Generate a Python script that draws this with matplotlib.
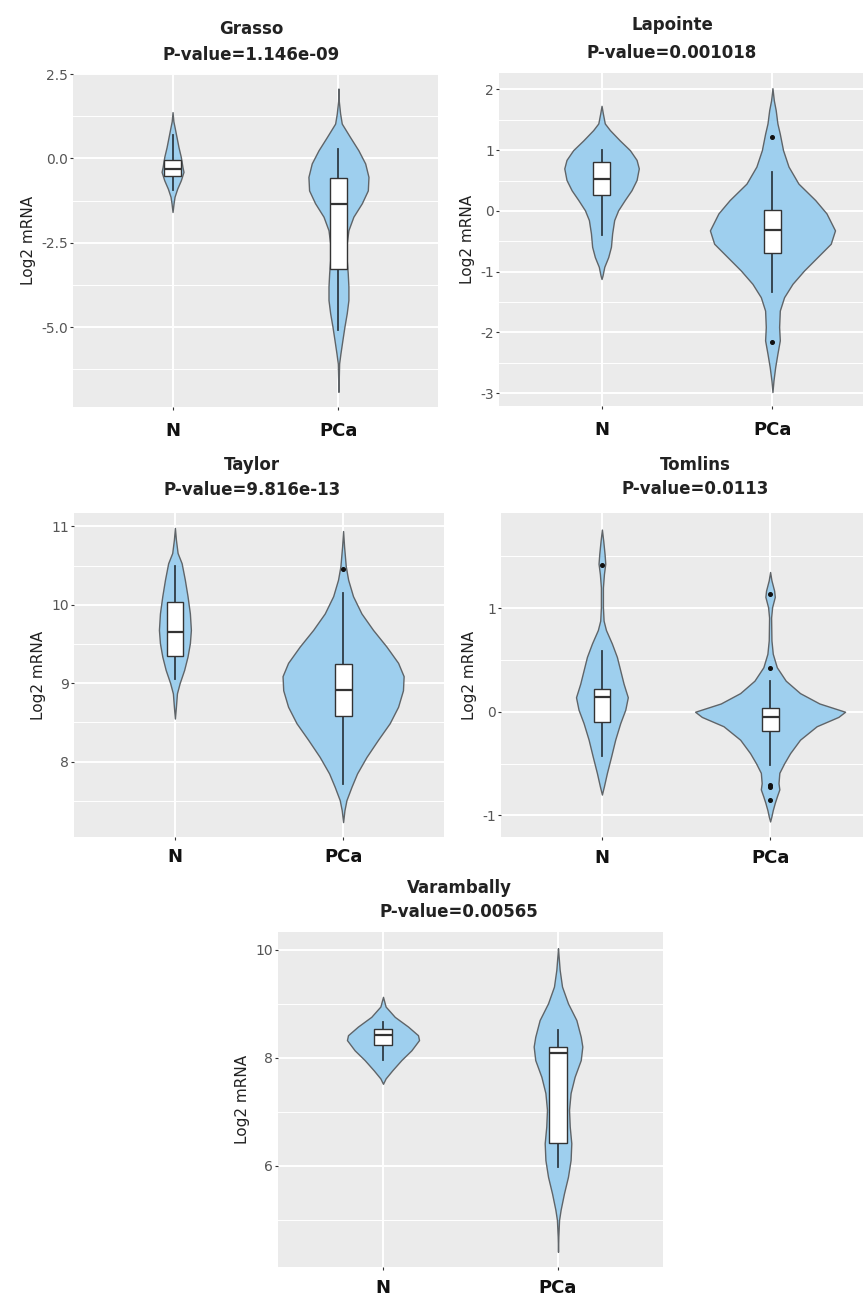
import numpy as np
import matplotlib.pyplot as plt
from matplotlib.ticker import AutoMinorLocator, FormatStrFormatter

plt.rcParams['font.family'] = ['DejaVu Sans']
plt.rcParams['axes.unicode_minus'] = False

groups = ['N', 'PCa']

# violin outlines: y value and half width (x units)
grasso_n_y = [1.37, 1.10, 0.93, 0.63, 0.33, 0.04, -0.26, -0.40, -0.65, -0.90, -1.14, -1.34, -1.59]
grasso_n_w = [0.0, 0.005, 0.012, 0.024, 0.036, 0.050, 0.060, 0.066, 0.050, 0.028, 0.012, 0.006, 0.0]
grasso_p_y = [2.07, 1.70, 1.33, 1.03, 0.63, 0.24, -0.15, -0.55, -0.95, -1.33, -1.73, -2.13, -2.52,
              -3.02, -3.41, -3.80, -4.20, -4.59, -4.99, -5.38, -5.78, -6.08, -6.50, -6.92]
grasso_p_w = [0.0, 0.002, 0.010, 0.020, 0.070, 0.120, 0.161, 0.181, 0.177, 0.141, 0.090, 0.060, 0.050,
              0.050, 0.056, 0.060, 0.060, 0.050, 0.036, 0.024, 0.012, 0.004, 0.002, 0.0]

lapointe_n_y = [1.73, 1.60, 1.44, 1.33, 1.16, 1.00, 0.84, 0.70, 0.51, 0.34, 0.18, 0.01, -0.15,
                -0.37, -0.59, -0.76, -0.92, -1.06, -1.12]
lapointe_n_w = [0.0, 0.008, 0.019, 0.049, 0.107, 0.166, 0.205, 0.218, 0.205, 0.175, 0.136, 0.097, 0.074,
                0.062, 0.055, 0.039, 0.016, 0.006, 0.0]
lapointe_p_y = [2.02, 1.82, 1.66, 1.44, 1.27, 1.00, 0.73, 0.45, 0.18, -0.04, -0.32, -0.54, -0.76,
                -0.98, -1.20, -1.42, -1.64, -1.91, -2.13, -2.35, -2.57, -2.79, -2.98]
lapointe_p_w = [0.0, 0.008, 0.019, 0.029, 0.043, 0.062, 0.094, 0.152, 0.250, 0.316, 0.366, 0.341, 0.263,
                0.185, 0.117, 0.068, 0.043, 0.039, 0.043, 0.029, 0.016, 0.006, 0.0]

taylor_n_y = [10.98, 10.83, 10.66, 10.53, 10.32, 10.11, 9.89, 9.68, 9.51, 9.34, 9.17, 9.00, 8.87, 8.70, 8.55]
taylor_n_w = [0.0, 0.006, 0.016, 0.040, 0.059, 0.075, 0.089, 0.095, 0.089, 0.075, 0.055, 0.028, 0.012, 0.006, 0.0]
taylor_p_y = [10.94, 10.74, 10.49, 10.32, 10.11, 9.89, 9.68, 9.47, 9.26, 9.09, 8.91, 8.70, 8.49, 8.28,
              8.06, 7.85, 7.68, 7.51, 7.38, 7.23]
taylor_p_w = [0.0, 0.006, 0.016, 0.030, 0.059, 0.109, 0.178, 0.257, 0.327, 0.360, 0.356, 0.327, 0.277, 0.208,
              0.139, 0.083, 0.050, 0.020, 0.008, 0.0]

tomlins_n_y = [1.76, 1.65, 1.52, 1.43, 1.33, 1.20, 1.01, 0.88, 0.79, 0.66, 0.53, 0.40, 0.27, 0.14, 0.02,
               -0.11, -0.27, -0.43, -0.59, -0.72, -0.80]
tomlins_n_w = [0.0, 0.008, 0.016, 0.020, 0.012, 0.006, 0.006, 0.010, 0.024, 0.059, 0.089, 0.109, 0.129, 0.154,
               0.139, 0.109, 0.079, 0.055, 0.030, 0.012, 0.0]
tomlins_p_y = [1.35, 1.27, 1.17, 1.11, 1.01, 0.91, 0.69, 0.56, 0.43, 0.30, 0.18, 0.08, 0.0, -0.05, -0.14,
               -0.27, -0.40, -0.50, -0.59, -0.69, -0.75, -0.82, -0.88, -0.95, -1.01, -1.06]
tomlins_p_w = [0.0, 0.008, 0.024, 0.028, 0.012, 0.006, 0.008, 0.016, 0.040, 0.093, 0.178, 0.293, 0.446, 0.406,
               0.277, 0.178, 0.119, 0.083, 0.055, 0.050, 0.055, 0.040, 0.028, 0.016, 0.008, 0.0]

varambally_n_y = [9.13, 9.01, 8.95, 8.76, 8.58, 8.42, 8.33, 8.14, 7.96, 7.77, 7.62, 7.52]
varambally_n_w = [0.0, 0.010, 0.015, 0.067, 0.143, 0.200, 0.206, 0.162, 0.105, 0.053, 0.015, 0.0]
varambally_p_y = [10.03, 9.90, 9.63, 9.32, 9.01, 8.70, 8.39, 8.21, 7.96, 7.65, 7.35, 7.04, 6.73, 6.42,
                  6.11, 5.80, 5.49, 5.19, 5.00, 4.70, 4.41]
varambally_p_w = [0.0, 0.003, 0.0095, 0.023, 0.057, 0.105, 0.130, 0.139, 0.130, 0.095, 0.072, 0.063, 0.067, 0.076,
                  0.072, 0.057, 0.034, 0.015, 0.006, 0.002, 0.0]

# box stats: q1, median, q3, lower whisker, upper whisker, outliers
grasso_box = [(-0.53, -0.31, -0.04, -0.95, 0.70, []),
              (-3.27, -1.34, -0.58, -5.09, 0.29, [])]
lapointe_box = [(0.26, 0.52, 0.81, -0.40, 1.00, []),
                (-0.70, -0.31, 0.01, -1.34, 0.64, [1.21, -2.16])]
taylor_box = [(9.35, 9.65, 10.04, 9.06, 10.49, []),
              (8.58, 8.92, 9.25, 7.72, 10.15, [10.45])]
tomlins_box = [(-0.10, 0.14, 0.22, -0.43, 0.59, [1.42]),
               (-0.19, -0.05, 0.04, -0.51, 0.30, [1.14, 0.42, -0.71, -0.73, -0.85])]
varambally_box = [(8.24, 8.42, 8.54, 7.96, 8.67, []),
                  (6.43, 8.09, 8.20, 5.99, 8.52, [])]

names = ['Grasso', 'Lapointe', 'Taylor', 'Tomlins', 'Varambally']
pvalues = ['1.146e-09', '0.001018', '9.816e-13', '0.0113', '0.00565']

W, H = 863, 1295
fig = plt.figure(figsize=(W / 100, H / 100), dpi=100)
fig.patch.set_facecolor('white')

# layout in pixels: left, top, right, bottom, title x, title line y's, x label pad (pt)
layout = {
    'Grasso': (73, 74, 438, 407, 251, 29, 55, 8.5),
    'Lapointe': (499, 73, 875, 406, 672, 25, 53, 8.5),
    'Taylor': (74, 513, 444, 837, 252, 465, 490, 5.5),
    'Tomlins': (501, 513, 871, 837, 695, 465, 489, 6.5),
    'Varambally': (278, 932, 663, 1267, 459, 888, 912, 6.5),
}
ylims = {'Grasso': (-7.37, 2.49), 'Lapointe': (-3.21, 2.27), 'Taylor': (7.04, 11.17),
         'Tomlins': (-1.21, 1.92), 'Varambally': (4.13, 10.33)}
yticks = {'Grasso': [-5.0, -2.5, 0.0, 2.5], 'Lapointe': [-3, -2, -1, 0, 1, 2], 'Taylor': [8, 9, 10, 11],
          'Tomlins': [-1, 0, 1], 'Varambally': [6, 8, 10]}

profiles = {
    'Grasso': [(grasso_n_y, grasso_n_w), (grasso_p_y, grasso_p_w)],
    'Lapointe': [(lapointe_n_y, lapointe_n_w), (lapointe_p_y, lapointe_p_w)],
    'Taylor': [(taylor_n_y, taylor_n_w), (taylor_p_y, taylor_p_w)],
    'Tomlins': [(tomlins_n_y, tomlins_n_w), (tomlins_p_y, tomlins_p_w)],
    'Varambally': [(varambally_n_y, varambally_n_w), (varambally_p_y, varambally_p_w)],
}
boxes = {'Grasso': grasso_box, 'Lapointe': lapointe_box, 'Taylor': taylor_box,
         'Tomlins': tomlins_box, 'Varambally': varambally_box}

for name, pval in zip(names, pvalues):
    l, t, r, b, tx, ty1, ty2, xpad = layout[name]
    ax = fig.add_axes([l / W, 1 - b / H, (r - l) / W, (b - t) / H])
    ax.set_facecolor('#EBEBEB')
    for s in ax.spines.values():
        s.set_visible(False)

    vstats = []
    widths = []
    for (ys, ws), bx in zip(profiles[name], boxes[name]):
        vstats.append(dict(coords=np.array(ys), vals=np.array(ws), mean=bx[1], median=bx[1],
                           min=min(ys), max=max(ys)))
        widths.append(2 * max(ws))
    vp = ax.violin(vstats, positions=[1, 2], widths=widths, showmeans=False,
                   showextrema=False, showmedians=False)
    for body in vp['bodies']:
        body.set_facecolor('#9ECFEE')
        body.set_edgecolor('#5F6468')
        body.set_linewidth(1.0)
        body.set_alpha(1)
        body.set_zorder(2)

    bstats = [dict(q1=q1, med=med, q3=q3, whislo=lo, whishi=hi, fliers=fl)
              for q1, med, q3, lo, hi, fl in boxes[name]]
    ax.bxp(bstats, positions=[1, 2], widths=0.1, patch_artist=True, showcaps=False,
           manage_ticks=False,
           boxprops=dict(facecolor='white', edgecolor='#333333', linewidth=1.0, zorder=4),
           medianprops=dict(color='#333333', linewidth=1.6, zorder=5),
           whiskerprops=dict(color='#2E3B45', linewidth=1.3, zorder=3),
           flierprops=dict(marker='o', markersize=2.6, markerfacecolor='#111111',
                           markeredgecolor='#111111', zorder=5))

    ax.set_xlim(0.4, 2.6)
    ax.set_ylim(*ylims[name])
    ax.set_xticks([1, 2])
    ax.set_xticklabels(groups, fontsize=13, fontweight='bold', color='#111111')
    ax.set_yticks(yticks[name])
    if name == 'Grasso':
        ax.yaxis.set_major_formatter(FormatStrFormatter('%.1f'))
    ax.yaxis.set_minor_locator(AutoMinorLocator(2))
    ax.tick_params(axis='y', which='major', labelsize=10, labelcolor='#555555', color='#333333',
                   length=2.2, width=0.8, pad=1.5)
    ax.tick_params(axis='y', which='minor', length=0)
    ax.tick_params(axis='x', length=2.2, width=0.8, color='#333333', pad=xpad)
    ax.set_axisbelow(True)
    ax.grid(which='major', color='white', linewidth=1.4)
    ax.grid(which='minor', axis='y', color='white', linewidth=0.7)
    ax.set_ylabel('Log2 mRNA', fontsize=11, color='#222222', labelpad=4)

    fig.text(tx / W, 1 - ty1 / H, name, ha='center', va='center', fontsize=12,
             fontweight='bold', color='#222222')
    fig.text(tx / W, 1 - ty2 / H, 'P-value=' + pval, ha='center', va='center', fontsize=12,
             fontweight='bold', color='#222222')

fig.savefig('out.png', dpi=100, facecolor='white')
